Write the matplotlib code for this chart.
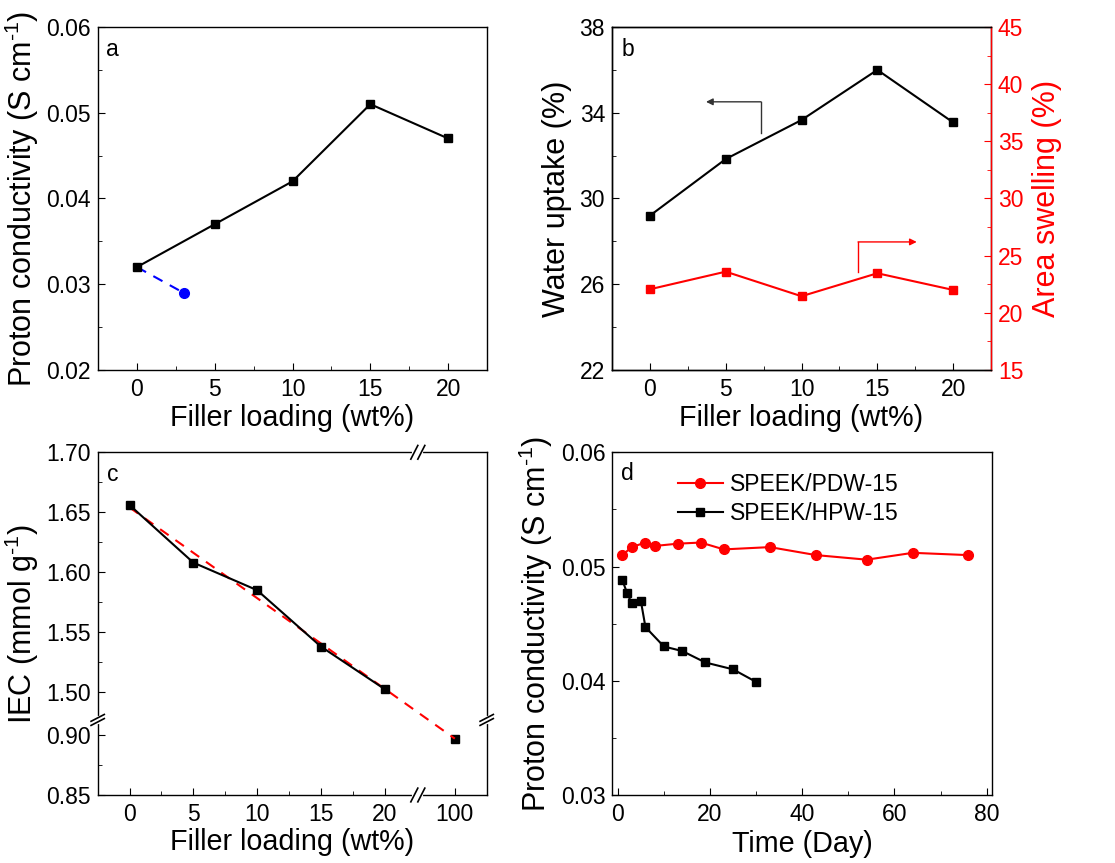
import matplotlib.pyplot as plt
import numpy as np

plt.rcParams['font.family'] = ['Liberation Sans', 'DejaVu Sans']
plt.rcParams['mathtext.fontset'] = 'custom'
plt.rcParams['mathtext.rm'] = 'Liberation Sans'
plt.rcParams['mathtext.default'] = 'regular'
plt.rcParams['font.size'] = 16
plt.rcParams['axes.linewidth'] = 1.0
plt.rcParams['xtick.direction'] = 'in'
plt.rcParams['ytick.direction'] = 'in'
plt.rcParams['xtick.major.size'] = 5
plt.rcParams['ytick.major.size'] = 5
plt.rcParams['xtick.minor.size'] = 3
plt.rcParams['ytick.minor.size'] = 3
plt.rcParams['xtick.major.pad'] = 6
plt.rcParams['ytick.major.pad'] = 5

# ---- data ----
# (a) conductivity vs filler loading
load = [0, 5, 10, 15, 20]
cond_a = [0.032, 0.037, 0.042, 0.051, 0.047]
blue_x = [0, 3]
blue_y = [0.032, 0.029]

# (b) water uptake / area swelling
wu = [29.2, 31.84, 33.66, 36.0, 33.55]
swell = [22.06, 23.6, 21.45, 23.46, 22.0]

# (c) IEC, with the 100 wt% point behind the axis breaks
iec_x = [0, 5, 10, 15, 20, 100]
iec = [1.656, 1.608, 1.585, 1.538, 1.5025, 0.897]
fit_x = [0, 100]
fit_y = [1.654, 0.897]

# (d) stability over time
t_pdw = [1, 3, 6, 8, 13, 18, 23, 33, 43, 54, 64, 76]
c_pdw = [0.0510, 0.0517, 0.0521, 0.0518, 0.0520, 0.0521, 0.0515, 0.0517,
         0.0510, 0.0506, 0.0512, 0.0510]
t_hpw = [1, 2, 3, 5, 6, 10, 14, 19, 25, 30]
c_hpw = [0.0488, 0.0477, 0.0468, 0.0470, 0.0447, 0.0430, 0.0426, 0.0416,
         0.0410, 0.0399]

XLAB = 20.7
YLAB = 22
TICK = 16.5
COND = r'Proton conductivity (S cm$^{\text{-1}}$)'

fig = plt.figure(figsize=(11.15, 8.63), dpi=100)
axa = fig.add_axes([0.0879, 0.5713, 0.3489, 0.3974])
axb = fig.add_axes([0.5489, 0.5713, 0.3399, 0.3974])
axc = fig.add_axes([0.0876, 0.0788, 0.3489, 0.3971])
axd = fig.add_axes([0.5491, 0.0788, 0.3403, 0.3971])

for ax in (axa, axb, axc, axd):
    ax.tick_params(labelsize=TICK)

# ---- a ----
axa.plot(load, cond_a, color='black', lw=1.5, marker='s', ms=6, zorder=3)
axa.plot(blue_x, blue_y, color='blue', lw=1.5, ls=(0, (5, 4)), marker='o',
         ms=7, markevery=[1])
axa.set_xlim(-2.5, 22.5)
axa.set_ylim(0.02, 0.06)
axa.set_xticks([0, 5, 10, 15, 20])
axa.set_xticks([2.5, 7.5, 12.5, 17.5], minor=True)
axa.set_yticks([0.02, 0.03, 0.04, 0.05, 0.06])
axa.set_yticks([0.025, 0.035, 0.045, 0.055], minor=True)
axa.set_xlabel('Filler loading (wt%)', fontsize=XLAB)
axa.set_ylabel(COND, fontsize=YLAB)
axa.yaxis.set_label_coords(-0.146, 0.5)
axa.xaxis.set_label_coords(0.5, -0.1)
axa.text(0.02, 0.933, 'a', transform=axa.transAxes, fontsize=TICK, va='center')

# ---- b ----
axb.plot(load, wu, color='black', lw=1.5, marker='s', ms=6)
axb.set_xlim(-2.5, 22.5)
axb.set_ylim(22, 38)
axb.set_xticks([0, 5, 10, 15, 20])
axb.set_xticks([2.5, 7.5, 12.5, 17.5], minor=True)
axb.set_yticks([22, 26, 30, 34, 38])
axb.set_yticks([24, 28, 32, 36], minor=True)
axb.set_xlabel('Filler loading (wt%)', fontsize=XLAB)
axb.set_ylabel('Water uptake (%)', fontsize=YLAB)
axb.yaxis.set_label_coords(-0.105, 0.5)
axb.xaxis.set_label_coords(0.5, -0.1)
axb.text(0.026, 0.935, 'b', transform=axb.transAxes, fontsize=TICK, va='center')
axb.annotate('', xy=(3.7, 34.51), xytext=(7.33, 34.51),
             arrowprops=dict(arrowstyle='-|>', color='#333333', lw=1.0,
                             mutation_scale=10, shrinkA=0, shrinkB=0))
axb.plot([7.33, 7.33], [33.07, 34.51], color='#333333', lw=1.0)

axb2 = axb.twinx()
axb2.plot(load, swell, color='red', lw=1.5, marker='s', ms=6)
axb2.set_ylim(15, 45)
axb2.set_yticks([15, 20, 25, 30, 35, 40, 45])
axb2.set_yticks([17.5, 22.5, 27.5, 32.5, 37.5, 42.5], minor=True)
axb2.tick_params(axis='y', which='both', colors='red', labelsize=TICK)
axb2.spines['right'].set_color('red')
axb2.set_ylabel('Area swelling (%)', fontsize=YLAB, color='red')
axb2.yaxis.set_label_coords(1.107, 0.5)
axb2.plot([13.73, 13.73], [23.6, 26.2], color='red', lw=1.0)
axb2.annotate('', xy=(17.6, 26.2), xytext=(13.73, 26.2),
              arrowprops=dict(arrowstyle='-|>', color='red', lw=1.0,
                              mutation_scale=10, shrinkA=0, shrinkB=0))

# ---- c (broken axes via piecewise scales) ----
xp = [-100, 22.6, 97.2, 1000]
xq = [-100, 22.6, 22.7, 925.5]
yp = [-10, 0.912, 1.4768, 10]
yq = [-9.4358, 1.4762, 1.4768, 10]


def fx(v):
    return np.interp(v, xp, xq)


def ifx(v):
    return np.interp(v, xq, xp)


def fy(v):
    return np.interp(v, yp, yq)


def ify(v):
    return np.interp(v, yq, yp)


axc.set_xscale('function', functions=(fx, ifx))
axc.set_yscale('function', functions=(fy, ify))
axc.plot(fit_x, fit_y, color='red', lw=1.5, ls=(0, (5, 4)), zorder=2)
axc.plot(iec_x[:5], iec[:5], color='black', lw=1.5, marker='s', ms=6, zorder=3)
axc.plot(iec_x[5:], iec[5:], color='black', lw=0, marker='s', ms=6, zorder=1)
axc.set_xlim(-2.5, 102.5)
axc.set_ylim(0.85, 1.70)
axc.set_xticks([0, 5, 10, 15, 20, 100])
axc.set_xticklabels(['0', '5', '10', '15', '20', '100'])
axc.set_xticks([2.5, 7.5, 12.5, 17.5], minor=True)
axc.set_yticks([0.85, 0.90, 1.50, 1.55, 1.60, 1.65, 1.70])
axc.set_yticklabels(['0.85', '0.90', '1.50', '1.55', '1.60', '1.65', '1.70'])
axc.set_yticks([0.875, 1.525, 1.575, 1.625, 1.675], minor=True)
axc.set_xlabel('Filler loading (wt%)', fontsize=XLAB)
axc.set_ylabel(r'IEC (mmol g$^{\text{-1}}$)', fontsize=YLAB)
axc.yaxis.set_label_coords(-0.146, 0.5)
axc.xaxis.set_label_coords(0.5, -0.097)
axc.text(0.023, 0.934, 'c', transform=axc.transAxes, fontsize=TICK, va='center')

# break marks
bx = (fx(22.65) - fx(-2.5)) / (fx(102.5) - fx(-2.5))
by = (fy(1.4765) - fy(0.85)) / (fy(1.70) - fy(0.85))
kw = dict(transform=axc.transAxes, clip_on=False, color='black', lw=1.2)
for yy in (0, 1):
    axc.plot([bx - 0.009, bx + 0.009], [yy, yy], color='white', lw=3,
             transform=axc.transAxes, clip_on=False, zorder=5)
    for d in (-0.009, 0.009):
        axc.plot([bx + d - 0.009, bx + d + 0.009], [yy - 0.02, yy + 0.02],
                 zorder=6, **kw)
for xx in (0, 1):
    axc.plot([xx, xx], [by - 0.007, by + 0.007], color='white', lw=3,
             transform=axc.transAxes, clip_on=False, zorder=5)
    for d in (-0.006, 0.006):
        axc.plot([xx - 0.017, xx + 0.017], [by + d - 0.01, by + d + 0.01],
                 zorder=6, **kw)

# ---- d ----
axd.plot(t_pdw, c_pdw, color='red', lw=1.5, marker='o', ms=7,
         label='SPEEK/PDW-15')
axd.plot(t_hpw, c_hpw, color='black', lw=1.5, marker='s', ms=6,
         label='SPEEK/HPW-15')
axd.set_xlim(-1.2, 81.1)
axd.set_ylim(0.03, 0.06)
axd.set_xticks([0, 20, 40, 60, 80])
axd.set_xticks([10, 30, 50, 70], minor=True)
axd.set_yticks([0.03, 0.04, 0.05, 0.06])
axd.set_yticks([0.035, 0.045, 0.055], minor=True)
axd.set_xlabel('Time (Day)', fontsize=XLAB)
axd.set_ylabel(COND, fontsize=YLAB)
axd.yaxis.set_label_coords(-0.15, 0.5)
axd.xaxis.set_label_coords(0.5, -0.102)
axd.text(0.023, 0.938, 'd', transform=axd.transAxes, fontsize=TICK, va='center')
axd.legend(loc='upper left', bbox_to_anchor=(0.148, 0.965), frameon=False,
           fontsize=TICK, handlelength=2.0, handletextpad=0.3,
           labelspacing=0.25, borderaxespad=0)

plt.savefig('out.png', dpi=100)
